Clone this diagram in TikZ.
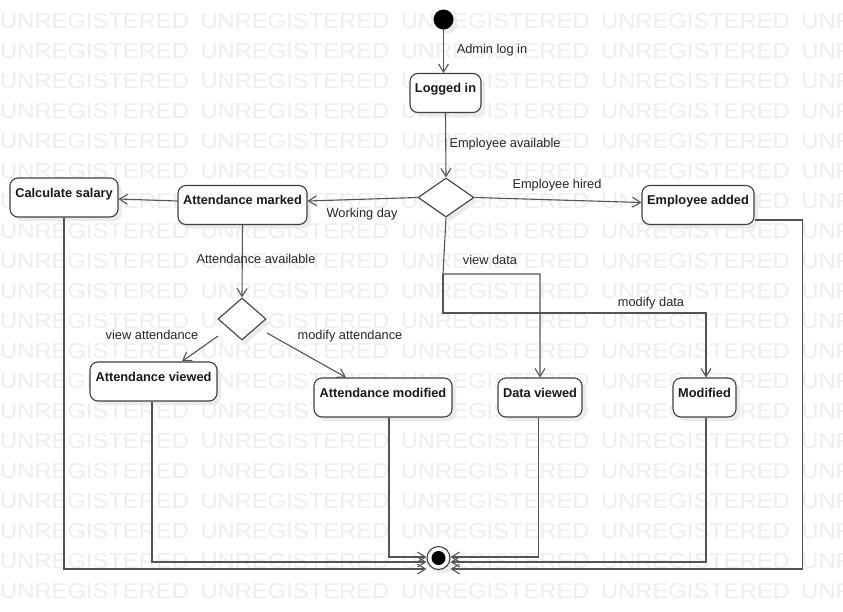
\documentclass[tikz,border=0pt]{standalone}
\usepackage{fontspec}
\setmainfont{Liberation Sans}
\newfontfamily\wmfont[FakeStretch=1.1]{Liberation Sans}
\usetikzlibrary{arrows.meta,shapes.geometric,shadows,calc}
\definecolor{wm}{gray}{0.935}
\definecolor{ln}{gray}{0.33}
\definecolor{bd}{gray}{0.25}
\definecolor{sh}{gray}{0.92}
\begin{document}
\begin{tikzpicture}[x=1pt,y=-1pt,
  every node/.style={font=\fontsize{12.8}{14}\selectfont},
  shad/.style={drop shadow={shadow xshift=4pt,shadow yshift=-4pt,fill=sh,opacity=1}},
  sbox/.style={draw=bd, line width=1.1pt, fill=white, rounded corners=8pt,
    text height=15pt, text depth=16pt, inner ysep=4pt, inner xsep=2pt,
    font=\fontsize{12.8}{14}\selectfont\bfseries, text=black!90, shad},
  dec/.style={diamond, draw=bd, line width=1.1pt, fill=white, inner sep=0pt, shad},
  arr/.style={draw=ln, line width=1.1pt, -{Straight Barb[length=8pt,width=10pt]}},
  lbl/.style={text=black!85, inner sep=0pt},
  wmk/.style={font=\wmfont\fontsize{21.6}{22}\selectfont, text=wm, inner sep=0pt, anchor=base west}]
\useasboundingbox (0,0) rectangle (843,611);
\fill[white] (0,0) rectangle (843,611);
% watermark
\begin{scope}
\clip (0,0) rectangle (843,611);
\foreach \r in {0,...,19} {
  \foreach \c in {0,...,4} {
    \node[wmk] (wm-\r-\c) at ({200.3*\c}, {28.75+30*\r}) {UNREGISTERED};
  }
}
\end{scope}
% nodes
\node[circle, fill=black, draw=black, minimum size=19.5pt, inner sep=0pt, shad] (init) at (443.5,19.5) {};
\node[sbox, minimum width=71pt] (login) at (445.5,93) {Logged in};
\node[dec, minimum width=56pt, minimum height=39pt] (d1) at (446,197.5) {};
\node[sbox, minimum width=112pt] (emp) at (698,205) {Employee added};
\node[sbox, minimum width=129pt] (att) at (242.5,205) {Attendance marked};
\node[sbox, minimum width=108pt] (cs) at (64,197.5) {Calculate salary};
\node[dec, minimum width=48pt, minimum height=42pt] (d2) at (242,319) {};
\node[sbox, minimum width=127pt] (av) at (153.5,381.5) {Attendance viewed};
\node[sbox, minimum width=138pt] (am) at (383,397.5) {Attendance modified};
\node[sbox, minimum width=84pt] (dv) at (540,397.5) {Data viewed};
\node[sbox, minimum width=63pt] (mod) at (704.5,397.5) {Modified};
\node[circle, draw=bd, line width=1.1pt, fill=white, minimum size=23pt, inner sep=0pt, shad] (fin) at (438.5,558) {};
\node[circle, fill=black, minimum size=14pt, inner sep=0pt] (finc) at (fin.center) {};
% connectors
\draw[arr] (init.south) -- (init.south |- login.north);
\node[lbl] (l1) at (492,50) {Admin log in};
\draw[arr] (login.south) -- (d1.north);
\node[lbl] (l2) at (505,144) {Employee available};
\draw[arr] (d1.east) -- ([yshift=2.5pt]emp.west);
\node[lbl] (l3) at (557,185) {Employee hired};
\draw[arr] (d1.west) -- ([yshift=4pt]att.east);
\node[lbl] (l4) at (362,214) {Working day};
\draw[arr] ([yshift=4pt]att.west) -- ([yshift=-1.5pt]cs.east);
\draw[arr] (att.south) -- (d2.north);
\node[lbl] (l5) at (256,259) {Attendance available};
\draw[arr] ($(d2.center)+(-24,17)$) -- ($(av.north)+(28.5,0)$);
\node[lbl] (l6) at (152,335) {view attendance};
\draw[arr] ($(d2.center)+(25,14)$) -- ($(am.north)+(-37,0)$);
\node[lbl] (l7) at (350,336) {modify attendance};
\coordinate (j1) at (443,274);
\coordinate (j2) at (443,313);
\draw[arr] (d1.south) -- (j1) -| (dv.north);
\draw[arr] (j1) -- (j2) -| ($(mod.north)+(1.5,0)$);
\node[lbl] (l8) at (490,260) {view data};
\node[lbl] (l9) at (651,303) {modify data};
% to final
\draw[arr] (cs.south) |- ([yshift=-11pt]fin.west);
\draw[arr] ($(av.south)+(-1.5,0)$) |- ([yshift=-4pt]fin.west);
\draw[arr] ($(am.south)+(6,0)$) |- ([yshift=1pt]fin.west);
\draw[arr] ($(dv.south)+(-1.5,0)$) |- ([yshift=1pt]fin.east);
\draw[arr] ($(mod.south)+(1.5,0)$) |- ([yshift=-4pt]fin.east);
\draw[arr] ([yshift=-15pt]emp.east) -- ++(48,0) |- ([yshift=-11pt]fin.east);
\end{tikzpicture}
\end{document}
